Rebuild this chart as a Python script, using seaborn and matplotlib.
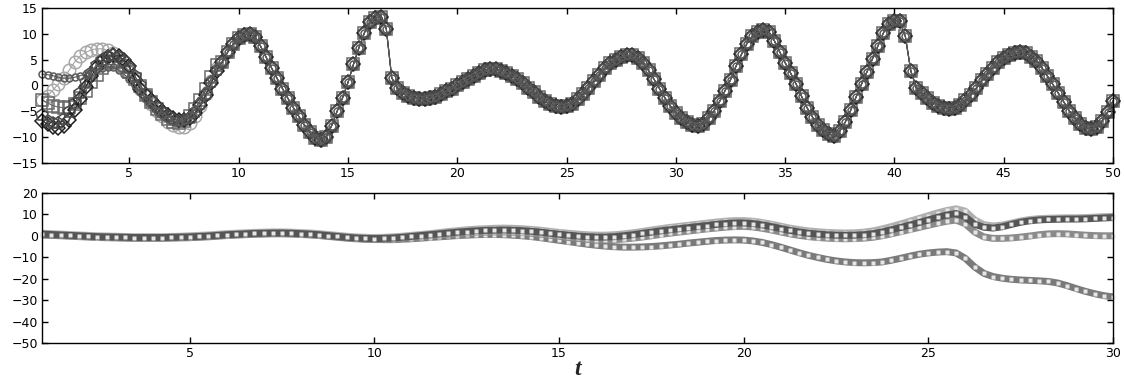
import numpy as np
import matplotlib
matplotlib.use("Agg")
import matplotlib.pyplot as plt
import seaborn as sns

# ---------------- data ----------------
# top panel: t = 1 .. 50, step 0.25 ; five trajectories that differ only for t <= 9
top_s1_early = [-2.8, -2.0, -0.9, 0.3, 1.5, 3.0, 4.6, 5.7, 6.4, 6.9, 7.1, 7.1, 6.8, 6.2, 5.2, 4.0,
                2.6, 1.0, -0.6, -2.1, -3.6, -4.9, -6.0, -7.0, -7.7, -8.1, -8.0, -7.3, -5.9, -4.0,
                -1.7, 0.8, 3.3]
top_s2_early = [2.2, 2.1, 1.9, 1.6, 1.4, 1.4, 1.6, 1.9, 2.3, 2.7, 3.1, 3.4, 3.6, 3.5, 3.0, 2.2,
                1.2, 0.0, -1.3, -2.6, -3.8, -4.9, -5.8, -6.5, -6.9, -7.0, -6.7, -5.8, -4.5, -2.9,
                -0.9, 1.3, 3.6]
top_s3_early = [-2.8, -3.4, -3.9, -4.2, -4.3, -4.1, -3.5, -2.4, -1.0, 0.6, 2.1, 3.4, 4.3, 4.7, 4.5,
                3.8, 2.7, 1.3, -0.2, -1.8, -3.2, -4.5, -5.6, -6.5, -7.0, -7.2, -6.9, -6.0, -4.6,
                -2.8, -0.7, 1.6, 3.9]
top_s4_early = [-6.8, -7.5, -8.0, -8.2, -7.8, -6.6, -4.8, -2.6, -0.3, 1.8, 3.5, 4.8, 5.6, 5.9, 5.7,
                4.9, 3.7, 1.0, -0.6, -1.9, -2.9, -3.9, -4.9, -5.7, -6.3, -6.7, -6.7, -6.3, -5.4,
                -3.8, -1.8, 0.5, 2.8]
top_s5_early = [-5.8, -6.8, -7.3, -7.2, -6.5, -5.2, -3.4, -1.4, 0.6, 2.4, 3.9, 5.0, 5.7, 5.9, 5.6,
                4.7, 3.4, 1.8, 0.1, -1.6, -3.0, -4.2, -5.2, -6.0, -6.5, -6.8, -6.7, -6.2, -5.2,
                -3.6, -1.6, 0.7, 3.0]
# common part, t = 9.25 .. 50
top_tail = [4.6, 6.5, 8.0, 9.1, 9.8, 10.0, 9.3, 7.6, 5.5, 3.4, 1.4, -0.6, -2.5, -4.3, -6.0, -7.6,
            -9.0, -10.2, -10.6, -9.9, -7.8, -5.0, -2.4, 0.6, 4.1, 7.3, 10.2, 12.2, 13.1, 13.3, 11.0,
            1.5, -0.5, -1.4, -2.0, -2.4, -2.6, -2.6, -2.5, -2.2, -1.7, -1.1, -0.6, 0.0, 0.6, 1.2,
            1.8, 2.4, 2.9, 3.2, 3.1, 2.8, 2.4, 1.9, 1.2, 0.4, -0.4, -1.3, -2.2, -3.0, -3.6, -4.0,
            -4.2, -4.0, -3.5, -2.7, -1.7, -0.5, 0.8, 2.1, 3.3, 4.3, 5.0, 5.5, 5.8, 5.8, 5.4, 4.4,
            2.9, 1.2, -0.6, -2.4, -4.0, -5.3, -6.3, -7.1, -7.6, -7.8, -7.4, -6.3, -4.9, -3.1, -1.0,
            1.1, 3.7, 6.0, 8.1, 9.5, 10.3, 10.7, 10.4, 8.7, 6.5, 4.4, 2.4, 0.3, -2.1, -4.3, -6.1,
            -7.6, -8.7, -9.4, -9.7, -8.8, -7.1, -4.8, -2.2, 0.3, 2.7, 5.2, 7.7, 10.2, 11.8, 12.5,
            12.4, 9.5, 2.8, -0.4, -1.5, -2.5, -3.3, -3.9, -4.3, -4.5, -4.4, -3.8, -2.9, -1.8, -0.5,
            1.0, 2.3, 3.4, 4.5, 5.3, 5.9, 6.3, 6.5, 6.3, 5.6, 4.8, 3.4, 1.8, 0.2, -1.5, -3.2, -4.9,
            -6.3, -7.4, -8.2, -8.4, -8.0, -6.9, -5.2, -3.0]
top_t_range = [1, 50]
top_xticks = [5, 10, 15, 20, 25, 30, 35, 40, 45, 50]
top_yticks = [-15, -10, -5, 0, 5, 10, 15]

# bottom panel: t = 1 .. 30, step 0.25
bot_light = [1.2, 1.0, 0.8, 0.6, 0.4, 0.2, 0.0, -0.1, -0.2, -0.3, -0.4, -0.4, -0.4, -0.4, -0.3, -0.2,
             0.0, 0.2, 0.4, 0.7, 1.0, 1.2, 1.4, 1.6, 1.7, 1.8, 1.8, 1.7, 1.5, 1.3, 1.0, 0.6, 0.2,
             -0.2, -0.5, -0.7, -0.8, -0.7, -0.5, -0.2, 0.2, 0.6, 1.0, 1.5, 2.0, 2.4, 2.8, 3.1, 3.3,
             3.5, 3.6, 3.5, 3.3, 3.0, 2.6, 2.1, 1.6, 1.2, 0.8, 0.5, 0.3, 0.3, 0.5, 0.9, 1.4, 2.0,
             2.7, 3.3, 3.9, 4.4, 4.9, 5.4, 5.9, 6.4, 6.8, 7.1, 7.1, 6.8, 6.2, 5.4, 4.5, 3.6, 2.9,
             2.3, 1.9, 1.6, 1.4, 1.3, 1.4, 1.7, 2.3, 3.2, 4.3, 5.5, 6.8, 8.1, 9.4, 10.7, 11.8, 12.6,
             11.5, 7.5, 5.2, 4.6, 5.0, 5.9, 6.9, 7.6, 8.0, 8.2, 8.3, 8.4, 8.4, 8.5, 8.7, 8.9, 9.1]
bot_dark = [0.8, 0.6, 0.4, 0.2, 0.0, -0.2, -0.4, -0.5, -0.6, -0.7, -0.8, -0.8, -0.8, -0.8, -0.7, -0.6,
            -0.5, -0.3, -0.1, 0.2, 0.5, 0.7, 0.9, 1.1, 1.2, 1.3, 1.3, 1.2, 1.0, 0.8, 0.5, 0.1, -0.3,
            -0.7, -1.0, -1.2, -1.3, -1.2, -1.0, -0.7, -0.3, 0.1, 0.5, 0.9, 1.3, 1.7, 2.0, 2.3, 2.5,
            2.6, 2.7, 2.6, 2.4, 2.1, 1.7, 1.2, 0.7, 0.3, -0.1, -0.4, -0.6, -0.6, -0.4, 0.0, 0.5,
            1.1, 1.7, 2.3, 2.8, 3.3, 3.8, 4.3, 4.8, 5.3, 5.7, 6.0, 6.0, 5.7, 5.1, 4.3, 3.4, 2.5,
            1.8, 1.2, 0.8, 0.5, 0.3, 0.2, 0.3, 0.5, 1.0, 1.8, 2.8, 3.9, 5.0, 6.2, 7.4, 8.6, 9.7,
            10.4, 8.8, 5.4, 4.0, 3.6, 4.2, 5.3, 6.3, 7.0, 7.4, 7.6, 7.7, 7.8, 7.8, 7.9, 8.1, 8.3, 8.5]
bot_medium = [0.3, 0.2, 0.0, -0.2, -0.4, -0.6, -0.8, -0.9, -1.0, -1.1, -1.2, -1.2, -1.2, -1.2, -1.1,
              -1.0, -0.9, -0.7, -0.5, -0.2, 0.1, 0.3, 0.5, 0.7, 0.8, 0.9, 0.9, 0.8, 0.6, 0.4, 0.1,
              -0.3, -0.7, -1.1, -1.4, -1.6, -1.7, -1.7, -1.5, -1.2, -0.8, -0.4, 0.0, 0.4, 0.7, 1.0,
              1.3, 1.5, 1.7, 1.8, 1.8, 1.7, 1.5, 1.2, 0.8, 0.3, -0.2, -0.7, -1.1, -1.5, -1.8, -1.9,
              -1.8, -1.5, -1.1, -0.6, 0.0, 0.6, 1.2, 1.7, 2.2, 2.7, 3.2, 3.6, 4.0, 4.3, 4.4, 4.1,
              3.5, 2.7, 1.8, 0.9, 0.2, -0.4, -0.8, -1.1, -1.3, -1.4, -1.3, -1.1, -0.7, 0.0, 0.9,
              1.9, 2.9, 3.9, 4.9, 5.9, 6.8, 7.3, 5.6, 1.8, -0.5, -1.2, -1.2, -1.0, -0.6, -0.1, 0.5,
              0.9, 1.0, 0.9, 0.6, 0.3, 0.1, 0.0, 0.0]
bot_low = [0.5, 0.4, 0.2, 0.0, -0.2, -0.4, -0.6, -0.7, -0.8, -0.9, -1.0, -1.0, -1.0, -1.0, -0.9, -0.8,
           -0.7, -0.5, -0.3, 0.0, 0.3, 0.5, 0.7, 0.9, 1.0, 1.1, 1.1, 1.0, 0.8, 0.6, 0.3, -0.1, -0.5,
           -0.9, -1.2, -1.5, -1.7, -1.8, -1.8, -1.6, -1.4, -1.1, -0.8, -0.5, -0.2, 0.1, 0.3, 0.5,
           0.6, 0.6, 0.5, 0.3, 0.0, -0.4, -0.9, -1.5, -2.1, -2.7, -3.3, -3.9, -4.4, -4.8, -5.1,
           -5.3, -5.3, -5.2, -5.0, -4.7, -4.3, -3.9, -3.4, -3.0, -2.6, -2.2, -2.0, -1.9, -2.0,
           -2.4, -3.1, -4.1, -5.3, -6.6, -7.9, -9.1, -10.1, -11.0, -11.7, -12.2, -12.5, -12.6,
           -12.5, -12.2, -11.4, -10.5, -9.5, -8.6, -8.0, -7.6, -7.4, -8.0, -10.5, -14.5, -17.5,
           -19.0, -19.8, -20.3, -20.6, -20.8, -21.0, -21.3, -22.0, -23.2, -24.6, -25.9, -27.0,
           -27.9, -28.5]
bot_t_range = [1, 30]
bot_xticks = [5, 10, 15, 20, 25, 30]
bot_yticks = [-50, -40, -30, -20, -10, 0, 10, 20]
xlabel_text = "t"

# ---------------- figure ----------------
sns.set_theme(style="ticks")
plt.rcParams['font.family'] = ['DejaVu Sans']

fig = plt.figure(figsize=(11.24, 3.79), dpi=100)
ax1 = fig.add_axes([0.0374, 0.570, 0.9528, 0.409])
ax2 = fig.add_axes([0.0374, 0.095, 0.9528, 0.396])

top_series = [
    (top_s1_early + top_tail, 'o', '#a8a8a8', 9.0),
    (top_s3_early + top_tail, 's', '#6a6a6a', 8.0),
    (top_s4_early + top_tail, 'D', '#1e1e1e', 7.5),
    (top_s5_early + top_tail, 'p', '#4a4a4a', 9.0),
    (top_s2_early + top_tail, 'o', '#5a5a5a', 5.0),
]
for vals, mk, col, ms in top_series:
    t = np.linspace(top_t_range[0], top_t_range[1], len(vals))
    sns.lineplot(x=t, y=vals, ax=ax1, color=col, linewidth=0.8, marker=mk,
                 markersize=ms, markerfacecolor='none', markeredgecolor=col,
                 markeredgewidth=1.1, clip_on=False, sort=False, estimator=None)

bot_series = [
    (bot_low, '#7a7a7a'),
    (bot_medium, '#8a8a8a'),
    (bot_light, '#b0b0b0'),
    (bot_dark, '#555555'),
]
for vals, col in bot_series:
    t = np.linspace(bot_t_range[0], bot_t_range[1], len(vals))
    sns.lineplot(x=t, y=vals, ax=ax2, color=col, linewidth=5.0, marker='s',
                 markersize=2.5, markerfacecolor='#e6e6e6', markeredgecolor='none',
                 clip_on=False, sort=False, estimator=None, solid_capstyle='butt')

ax1.set_xlim(top_t_range)
ax1.set_ylim(-15, 15)
ax1.set_xticks(top_xticks)
ax1.set_yticks(top_yticks)
ax2.set_xlim(bot_t_range)
ax2.set_ylim(-50, 20)
ax2.set_xticks(bot_xticks)
ax2.set_yticks(bot_yticks)
ax2.set_xlabel(xlabel_text, fontsize=17, fontstyle='italic', fontweight='bold',
               family='Liberation Serif', labelpad=-1)
ax1.set_xlabel('')

for ax in (ax1, ax2):
    for s in ax.spines.values():
        s.set_visible(True)
        s.set_color('black')
        s.set_linewidth(1.0)
    ax.tick_params(direction='in', top=True, right=True, length=4, width=1,
                   labelsize=9, colors='black', pad=3)
    ax.set_facecolor('white')
    ax.grid(False)
    if ax.get_legend() is not None:
        ax.get_legend().remove()

fig.savefig("out.png", dpi=100, facecolor='white')
